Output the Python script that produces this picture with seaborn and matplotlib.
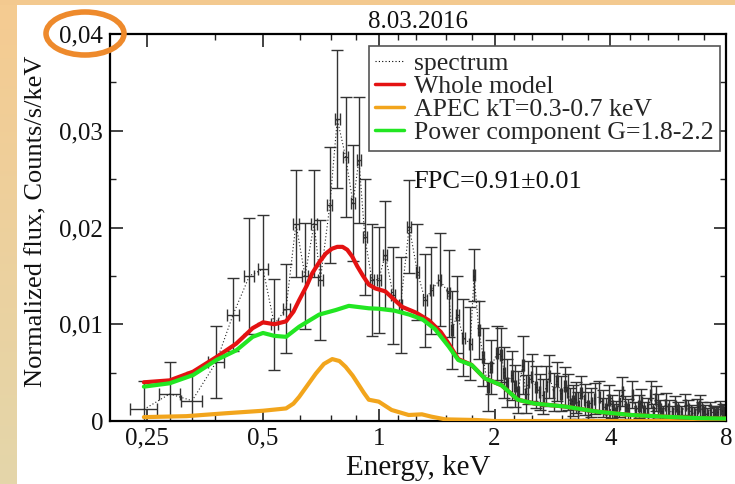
import numpy as np
import pandas as pd
import seaborn as sns
import matplotlib
matplotlib.use("Agg")
import matplotlib.pyplot as plt
from matplotlib.patches import Ellipse
from matplotlib.lines import Line2D
from matplotlib.ticker import FixedLocator, FixedFormatter, NullFormatter

# ---------------- data ----------------
title = "8.03.2016"
x_ticks = [0.25, 0.5, 1, 2, 4, 8]
x_tick_labels = ["0,25", "0,5", "1", "2", "4", "8"]
x_minor = [0.375, 0.625, 0.75, 0.875, 1.125, 1.25, 1.5, 1.75,
           2.25, 2.5, 3, 3.5, 4.5, 5, 6, 7]
y_ticks = [0, 0.01, 0.02, 0.03, 0.04]
y_tick_labels = ["0", "0,01", "0,02", "0,03", "0,04"]
y_minor = [0.005, 0.015, 0.025, 0.035]

spec_E = [0.245, 0.286, 0.327, 0.378, 0.418, 0.461, 0.500, 0.535, 0.574, 0.609,
          0.643, 0.679, 0.705, 0.746, 0.780, 0.820, 0.857, 0.888, 0.920, 0.960,
          1.000, 1.040, 1.090, 1.140, 1.200, 1.260, 1.320, 1.370, 1.440, 1.520,
          1.550, 1.600, 1.660, 1.730, 1.770, 1.820, 1.870, 1.920, 1.960, 2.030,
          2.085, 2.150, 2.220, 2.300, 2.370, 2.450, 2.570, 2.680, 2.780, 2.850,
          2.910, 3.050, 3.150, 3.250, 3.360, 3.500, 3.640, 3.750, 3.900, 4.050,
          4.150, 4.300, 4.450, 4.570, 4.750, 4.900, 5.100, 5.250, 5.400, 5.570,
          5.800, 6.000, 6.270, 6.500, 6.740, 6.940, 7.150, 7.430, 7.600, 7.850]
spec_F = [0.0012, 0.0028, 0.0021, 0.0061, 0.0110, 0.0150, 0.0157, 0.0100, 0.0116, 0.0204,
          0.0150, 0.0204, 0.0146, 0.0223, 0.0312, 0.0273, 0.0225, 0.0270, 0.0190, 0.0146,
          0.0146, 0.0172, 0.0130, 0.0120, 0.0201, 0.0154, 0.0125, 0.0135, 0.0146, 0.0132,
          0.0094, 0.0110, 0.0086, 0.0080, 0.0151, 0.0094, 0.0066, 0.0035, 0.0056, 0.0070,
          0.0068, 0.0039, 0.0047, 0.0030, 0.0058, 0.0040, 0.0035, 0.0025, 0.0046, 0.0030,
          0.0041, 0.0036, 0.0018, 0.0024, 0.0029, 0.0016, 0.0023, 0.0025, 0.0012, 0.0015,
          0.0010, 0.0030, 0.0012, 0.0027, 0.0015, 0.0010, 0.0027, 0.0023, 0.0012, 0.0017,
          0.0008, 0.0011, 0.0017, 0.0009, 0.0013, 0.0011, 0.0006, 0.0008, 0.0008, 0.0010]
spec_xerr = [0.020, 0.018, 0.021, 0.018, 0.015, 0.014, 0.014, 0.012, 0.012, 0.011,
             0.011, 0.011, 0.011, 0.011, 0.011, 0.011, 0.011, 0.011, 0.011, 0.011,
             0.012, 0.012, 0.012, 0.012, 0.013, 0.013, 0.013, 0.013, 0.013, 0.013,
             0.013, 0.013, 0.013, 0.013, 0.012, 0.012, 0.012, 0.012, 0.012, 0.012,
             0.012, 0.012, 0.012, 0.012, 0.012, 0.012, 0.014, 0.014, 0.014, 0.014,
             0.014, 0.015, 0.015, 0.015, 0.015, 0.015, 0.016, 0.016, 0.016, 0.016,
             0.018, 0.018, 0.018, 0.018, 0.020, 0.020, 0.020, 0.020, 0.020, 0.020,
             0.020, 0.020, 0.025, 0.025, 0.025, 0.025, 0.025, 0.025, 0.025, 0.025]
spec_yerr = [0.0029, 0.0033, 0.0030, 0.0037, 0.0038, 0.0060, 0.0056, 0.0047, 0.0046, 0.0055,
             0.0055, 0.0055, 0.0062, 0.0060, 0.0071, 0.0062, 0.0060, 0.0065, 0.0060, 0.0058,
             0.0055, 0.0055, 0.0050, 0.0050, 0.0048, 0.0050, 0.0048, 0.0045, 0.0048, 0.0045,
             0.0040, 0.0040, 0.0040, 0.0038, 0.0027, 0.0030, 0.0030, 0.0025, 0.0028, 0.0028,
             0.0028, 0.0025, 0.0025, 0.0022, 0.0030, 0.0022, 0.0022, 0.0018, 0.0022, 0.0020,
             0.0020, 0.0020, 0.0016, 0.0016, 0.0018, 0.0014, 0.0016, 0.0016, 0.0012, 0.0012,
             0.0011, 0.0015, 0.0011, 0.0014, 0.0012, 0.0010, 0.0014, 0.0013, 0.0010, 0.0012,
             0.0008, 0.0009, 0.0011, 0.0008, 0.0010, 0.0009, 0.0007, 0.0008, 0.0008, 0.0008]

# extra (denser) high-energy bins
spec2_E = [2.12, 2.26, 2.41, 2.50, 2.62, 2.73, 2.98, 3.10, 3.20, 3.30,
           3.43, 3.57, 3.82, 3.97, 4.10, 4.22, 4.38, 4.65, 4.82, 5.00,
           5.18, 5.33, 5.48, 5.68, 5.90, 6.12, 6.38, 6.62, 6.84, 7.05,
           7.28, 7.52, 7.72, 7.95]
spec2_F = [0.0050, 0.0036, 0.0028, 0.0045, 0.0030, 0.0036, 0.0028, 0.0030, 0.0021, 0.0016,
           0.0022, 0.0019, 0.0018, 0.0022, 0.0008, 0.0018, 0.0014, 0.0010, 0.0020, 0.0013,
           0.0009, 0.0016, 0.0008, 0.0012, 0.0015, 0.0008, 0.0012, 0.0007, 0.0016, 0.0009,
           0.0011, 0.0007, 0.0012, 0.0009]
spec2_xerr = [0.010, 0.010, 0.010, 0.010, 0.011, 0.011, 0.012, 0.012, 0.012, 0.012,
              0.013, 0.013, 0.014, 0.014, 0.015, 0.015, 0.015, 0.016, 0.016, 0.017,
              0.017, 0.018, 0.018, 0.019, 0.019, 0.020, 0.020, 0.021, 0.021, 0.022,
              0.022, 0.023, 0.023, 0.024]
spec2_yerr = [0.0026, 0.0022, 0.0020, 0.0024, 0.0019, 0.0021, 0.0018, 0.0019, 0.0016, 0.0014,
              0.0016, 0.0015, 0.0014, 0.0015, 0.0010, 0.0014, 0.0012, 0.0010, 0.0013, 0.0011,
              0.0009, 0.0012, 0.0008, 0.0010, 0.0011, 0.0008, 0.0010, 0.0007, 0.0011, 0.0008,
              0.0009, 0.0007, 0.0009, 0.0008]

whole_E = [0.245, 0.286, 0.329, 0.378, 0.426, 0.470, 0.500, 0.535, 0.574, 0.600,
           0.621, 0.650, 0.672, 0.700, 0.728, 0.755, 0.780, 0.805, 0.828, 0.853,
           0.879, 0.910, 0.942, 0.980, 1.04, 1.10, 1.15, 1.25, 1.35, 1.45,
           1.52, 1.61, 1.743, 1.888, 2.085, 2.30, 2.545, 3.04, 3.71, 4.53,
           5.52, 6.74, 8.0]
whole_F = [0.0040, 0.0042, 0.0051, 0.0066, 0.0080, 0.0096, 0.0102, 0.0100, 0.0103, 0.0113,
           0.0125, 0.0140, 0.0153, 0.0164, 0.0173, 0.0178, 0.0180, 0.0180, 0.0177, 0.0170,
           0.0160, 0.0150, 0.0141, 0.0137, 0.0134, 0.0125, 0.0118, 0.0112, 0.0104, 0.0092,
           0.0080, 0.0064, 0.0058, 0.0044, 0.0037, 0.0022, 0.0018, 0.0015, 0.00096, 0.00062,
           0.00045, 0.00030, 0.00025]

apec_E = [0.245, 0.316, 0.400, 0.500, 0.574, 0.600, 0.621, 0.650, 0.686, 0.720,
          0.757, 0.790, 0.820, 0.855, 0.888, 0.915, 0.942, 1.00, 1.08, 1.196,
          1.295, 1.37, 1.49, 1.8, 2.0, 8.0]
apec_F = [0.0004, 0.0005, 0.0008, 0.00106, 0.0013, 0.0018, 0.0025, 0.0036, 0.0049, 0.0059,
          0.0064, 0.0062, 0.0056, 0.0047, 0.0037, 0.0029, 0.0022, 0.0020, 0.00114, 0.00062,
          0.00069, 0.00045, 0.00017, 0.0001, 0.0, 0.0]

power_E = [0.245, 0.286, 0.329, 0.378, 0.426, 0.470, 0.500, 0.535, 0.574, 0.621,
           0.700, 0.773, 0.836, 0.942, 1.00, 1.10, 1.20, 1.30, 1.40, 1.52,
           1.61, 1.743, 1.888, 2.085, 2.30, 2.545, 3.04, 3.71, 4.53, 5.52,
           6.74, 8.0]
power_F = [0.00355, 0.0039, 0.00475, 0.0063, 0.0073, 0.0087, 0.0091, 0.0088, 0.0087, 0.00975,
           0.0110, 0.01147, 0.0119, 0.01165, 0.0116, 0.0114, 0.0110, 0.0105, 0.0095, 0.0077,
           0.0063, 0.0058, 0.0044, 0.0037, 0.0022, 0.0018, 0.0015, 0.00096, 0.00062, 0.00045,
           0.00030, 0.00025]

labels = ["spectrum", "Whole model", "APEC kT=0.3-0.7 keV", "Power component G=1.8-2.2"]
annotation = "FPC=0.91\u00b10.01"
x_label = "Energy, keV"
y_label = "Normalized flux, Counts/s/keV"

spec = pd.concat([
    pd.DataFrame({"E": spec_E, "F": spec_F, "xe": spec_xerr, "ye": spec_yerr}),
    pd.DataFrame({"E": spec2_E, "F": spec2_F, "xe": spec2_xerr, "ye": spec2_yerr}),
]).sort_values("E").reset_index(drop=True)

# ---------------- style ----------------
sns.set_theme(style="white")
plt.rcParams["font.family"] = ["Liberation Serif", "DejaVu Serif"]
FS = 18

C_RED = "#E41212"
C_ORANGE = "#F2A51C"
C_GREEN = "#22E622"

W, H = 735, 484
fig = plt.figure(figsize=(W / 100, H / 100), dpi=100)
fig.patch.set_facecolor("white")

# decorative slide background strips
strip = fig.add_axes([0, 0, 17 / W, 1])
grad = np.linspace(0, 1, 256)[:, None]
top_c = np.array([245, 203, 145]) / 255
bot_c = np.array([228, 214, 170]) / 255
img = top_c[None, None, :] * (1 - grad[:, :, None]) + bot_c[None, None, :] * grad[:, :, None]
strip.imshow(img, aspect="auto", extent=[0, 1, 0, 1])
strip.set_axis_off()
topstrip = fig.add_axes([0, 1 - 5 / H, 1, 5 / H])
topstrip.set_facecolor("#F3C98F")
topstrip.set_xticks([]); topstrip.set_yticks([])
for s in topstrip.spines.values():
    s.set_visible(False)

ax = fig.add_axes([110 / W, 1 - 421 / H, 616 / W, 387 / H])
ax.set_facecolor("white")

# spectrum
ax.errorbar(spec["E"], spec["F"], xerr=spec["xe"], yerr=spec["ye"], fmt="none",
            ecolor="#333333", elinewidth=1.0, capsize=4.5, capthick=1.0, zorder=2)
sns.lineplot(data=spec, x="E", y="F", ax=ax, color="#222222", lw=0.8,
             linestyle=(0, (1, 2)), sort=False, estimator=None, legend=False, zorder=2)

# models
sns.lineplot(x=apec_E, y=apec_F, ax=ax, color=C_ORANGE, lw=3, sort=False,
             estimator=None, legend=False, zorder=3)
sns.lineplot(x=whole_E, y=whole_F, ax=ax, color=C_RED, lw=3, sort=False,
             estimator=None, legend=False, zorder=4)
sns.lineplot(x=power_E, y=power_F, ax=ax, color=C_GREEN, lw=3, sort=False,
             estimator=None, legend=False, zorder=5)

ax.set_xscale("log")
ax.set_xlim(0.2, 8)
ax.set_ylim(0, 0.04)
ax.xaxis.set_major_locator(FixedLocator(x_ticks))
ax.xaxis.set_major_formatter(FixedFormatter(x_tick_labels))
ax.xaxis.set_minor_locator(FixedLocator(x_minor))
ax.xaxis.set_minor_formatter(NullFormatter())
ax.yaxis.set_major_locator(FixedLocator(y_ticks))
ax.yaxis.set_major_formatter(FixedFormatter(y_tick_labels))
ax.yaxis.set_minor_locator(FixedLocator(y_minor))
ax.yaxis.set_minor_formatter(NullFormatter())

ax.tick_params(which="both", direction="in", top=True, right=True,
               bottom=True, left=True, color="#222222", labelcolor="#111111",
               labelsize=FS)
ax.tick_params(which="major", length=9, width=1.2, pad=5)
ax.tick_params(which="minor", length=4.5, width=1.0)
for s in ax.spines.values():
    s.set_color("black")
    s.set_linewidth(1.6)
    s.set_visible(True)

ax.set_xlabel(x_label, fontsize=21, color="#111111")
ax.xaxis.set_label_coords(0.5, -0.088)
ax.set_ylabel(y_label, fontsize=19, color="#111111")
ax.yaxis.set_label_coords(-0.102, 0.515)
ax.set_title(title, fontsize=FS, pad=4, color="#111111")

ax.text(1.23, 0.0247, annotation, fontsize=19, va="center", ha="left",
        color="#111111", zorder=6)

handles = [Line2D([], [], color="black", lw=0.8, linestyle=(0, (1, 2))),
           Line2D([], [], color=C_RED, lw=2.5),
           Line2D([], [], color=C_ORANGE, lw=2.5),
           Line2D([], [], color=C_GREEN, lw=2.5)]
leg = ax.legend(handles, labels, loc="upper right",
                bbox_to_anchor=((720 - 110) / 616, (421 - 46) / 387),
                borderaxespad=0, fontsize=18.5, frameon=True, fancybox=False,
                framealpha=1, edgecolor="#555555", labelspacing=0.0,
                handlelength=1.1, handletextpad=0.4, borderpad=0.25)
leg.get_frame().set_linewidth(1.2)
leg.set_zorder(10)

# orange highlight ellipse around top y tick label
fig.add_artist(Ellipse((85 / W, 1 - 33.5 / H), 78 / W, 43 / H,
                       transform=fig.transFigure, fill=False,
                       ec="#EE8A2C", lw=4, zorder=20))

fig.savefig("out.png", dpi=100, facecolor=fig.get_facecolor())
